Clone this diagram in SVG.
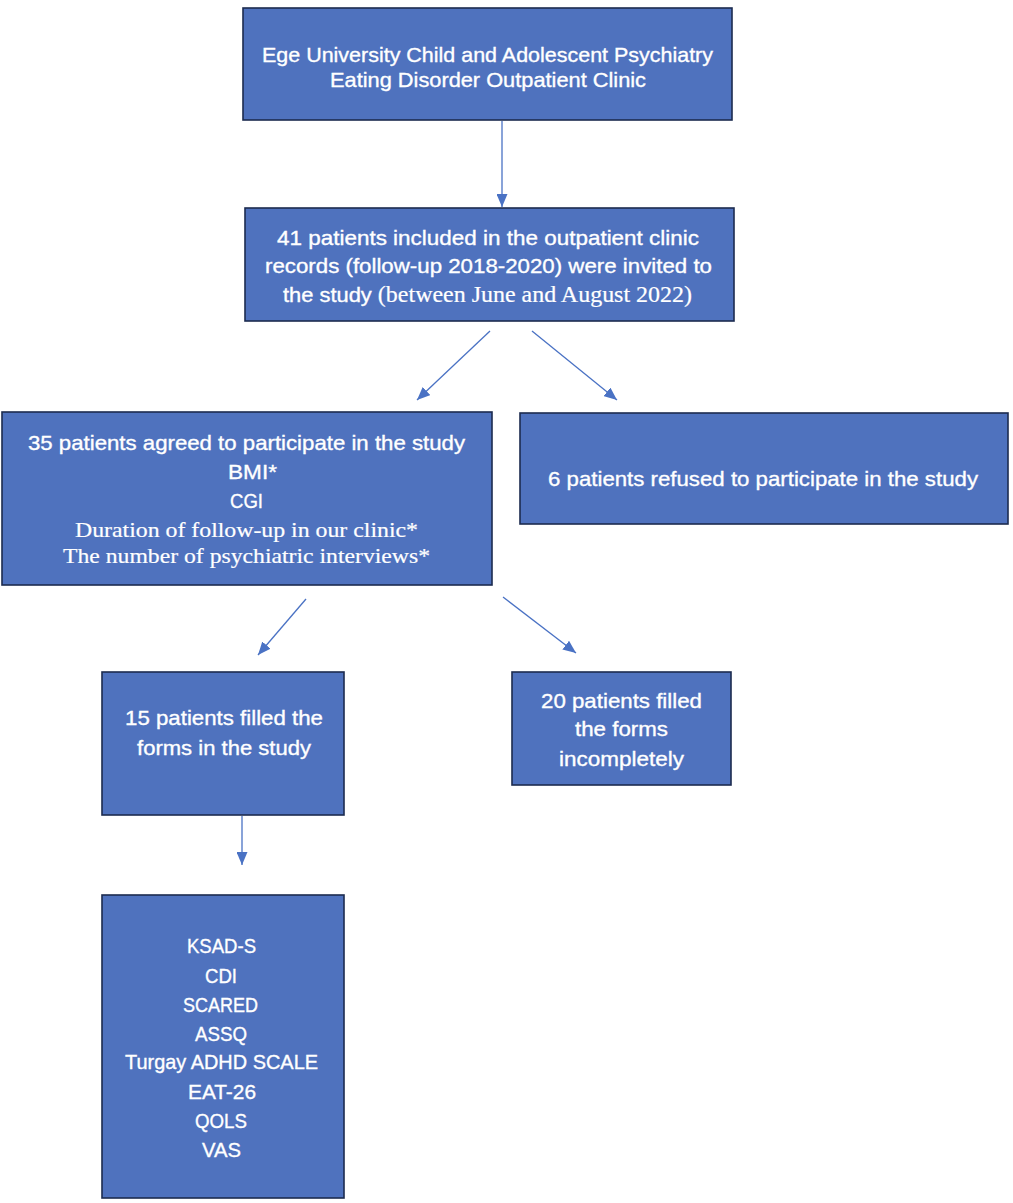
<svg xmlns="http://www.w3.org/2000/svg" width="1013" height="1203" viewBox="0 0 1013 1203">
<style>
.box{fill:#4f72be;stroke:#1c2b4f;stroke-width:1.6}
.t{font-family:"Liberation Sans",Arial,sans-serif;font-size:21px;fill:#ffffff;stroke:#ffffff;stroke-width:0.35;text-anchor:middle}
.s{font-family:"Liberation Serif","Times New Roman",serif;font-size:22px;fill:#ffffff;stroke:#ffffff;stroke-width:0.2;text-anchor:middle}
.c{stroke:#4a72c4;stroke-width:1.3;fill:none}
</style>
<defs>
<marker id="ah" viewBox="0 0 13 11" refX="13" refY="5.5" markerWidth="13" markerHeight="11" markerUnits="userSpaceOnUse" orient="auto">
<path d="M0,0 L13,5.5 L0,11 Z" fill="#4a72c4"/>
</marker>
</defs>
<rect width="1013" height="1203" fill="#ffffff"/>
<g id="connectors">
<line class="c" x1="502" y1="121" x2="502" y2="207" marker-end="url(#ah)"/>
<line class="c" x1="490" y1="331" x2="417" y2="400" marker-end="url(#ah)"/>
<line class="c" x1="532" y1="331" x2="617" y2="400" marker-end="url(#ah)"/>
<line class="c" x1="306" y1="599" x2="258" y2="655" marker-end="url(#ah)"/>
<line class="c" x1="503" y1="597" x2="576" y2="653" marker-end="url(#ah)"/>
<line class="c" x1="242" y1="816" x2="242" y2="865" marker-end="url(#ah)"/>
</g>
<g id="clinic">
<rect class="box" x="243" y="8" width="489" height="112"/>
<text class="t" x="487.5" y="62" textLength="451" lengthAdjust="spacingAndGlyphs">Ege University Child and Adolescent Psychiatry</text>
<text class="t" x="488" y="87" textLength="316" lengthAdjust="spacingAndGlyphs">Eating Disorder Outpatient Clinic</text>
</g>
<g id="invited">
<rect class="box" x="245" y="208" width="489" height="113"/>
<text class="t" x="488" y="245" textLength="422" lengthAdjust="spacingAndGlyphs">41 patients included in the outpatient clinic</text>
<text class="t" x="488.5" y="273" textLength="447" lengthAdjust="spacingAndGlyphs">records (follow-up 2018-2020) were invited to</text>
<text class="t" x="487.5" y="302" textLength="409" lengthAdjust="spacingAndGlyphs">the study <tspan style="font-family:'Liberation Serif','Times New Roman',serif;font-size:23px;stroke-width:0.2">(between June and August 2022)</tspan></text>
</g>
<g id="agreed">
<rect class="box" x="2" y="412" width="490" height="173"/>
<text class="t" x="246.5" y="450" textLength="437" lengthAdjust="spacingAndGlyphs">35 patients agreed to participate in the study</text>
<text class="t" x="252.5" y="479" textLength="49" lengthAdjust="spacingAndGlyphs">BMI*</text>
<text class="t" x="246.5" y="508" textLength="33" lengthAdjust="spacingAndGlyphs">CGI</text>
<text class="s" x="246.5" y="537" textLength="343" lengthAdjust="spacingAndGlyphs">Duration of follow-up in our clinic*</text>
<text class="s" x="246.5" y="563" textLength="367" lengthAdjust="spacingAndGlyphs">The number of psychiatric interviews*</text>
</g>
<g id="refused">
<rect class="box" x="520" y="413" width="488" height="111"/>
<text class="t" x="763" y="486" textLength="430" lengthAdjust="spacingAndGlyphs">6 patients refused to participate in the study</text>
</g>
<g id="filled">
<rect class="box" x="102" y="672" width="242" height="143"/>
<text class="t" x="224" y="725" textLength="198" lengthAdjust="spacingAndGlyphs">15 patients filled the</text>
<text class="t" x="224" y="755" textLength="174" lengthAdjust="spacingAndGlyphs">forms in the study</text>
</g>
<g id="incomplete">
<rect class="box" x="512" y="672" width="219" height="113"/>
<text class="t" x="621.5" y="708" textLength="161" lengthAdjust="spacingAndGlyphs">20 patients filled</text>
<text class="t" x="621.5" y="736" textLength="93" lengthAdjust="spacingAndGlyphs">the forms</text>
<text class="t" x="621.5" y="766" textLength="125" lengthAdjust="spacingAndGlyphs">incompletely</text>
</g>
<g id="scales">
<rect class="box" x="102" y="895" width="242" height="303"/>
<text class="t" x="221.5" y="953" textLength="69" lengthAdjust="spacingAndGlyphs">KSAD-S</text>
<text class="t" x="221" y="983" textLength="32" lengthAdjust="spacingAndGlyphs">CDI</text>
<text class="t" x="220.5" y="1012" textLength="75" lengthAdjust="spacingAndGlyphs">SCARED</text>
<text class="t" x="221" y="1041" textLength="52" lengthAdjust="spacingAndGlyphs">ASSQ</text>
<text class="t" x="221.5" y="1069" textLength="193" lengthAdjust="spacingAndGlyphs">Turgay ADHD SCALE</text>
<text class="t" x="222" y="1099" textLength="68" lengthAdjust="spacingAndGlyphs">EAT-26</text>
<text class="t" x="221" y="1128" textLength="52" lengthAdjust="spacingAndGlyphs">QOLS</text>
<text class="t" x="221.5" y="1157" textLength="39" lengthAdjust="spacingAndGlyphs">VAS</text>
</g>
</svg>
